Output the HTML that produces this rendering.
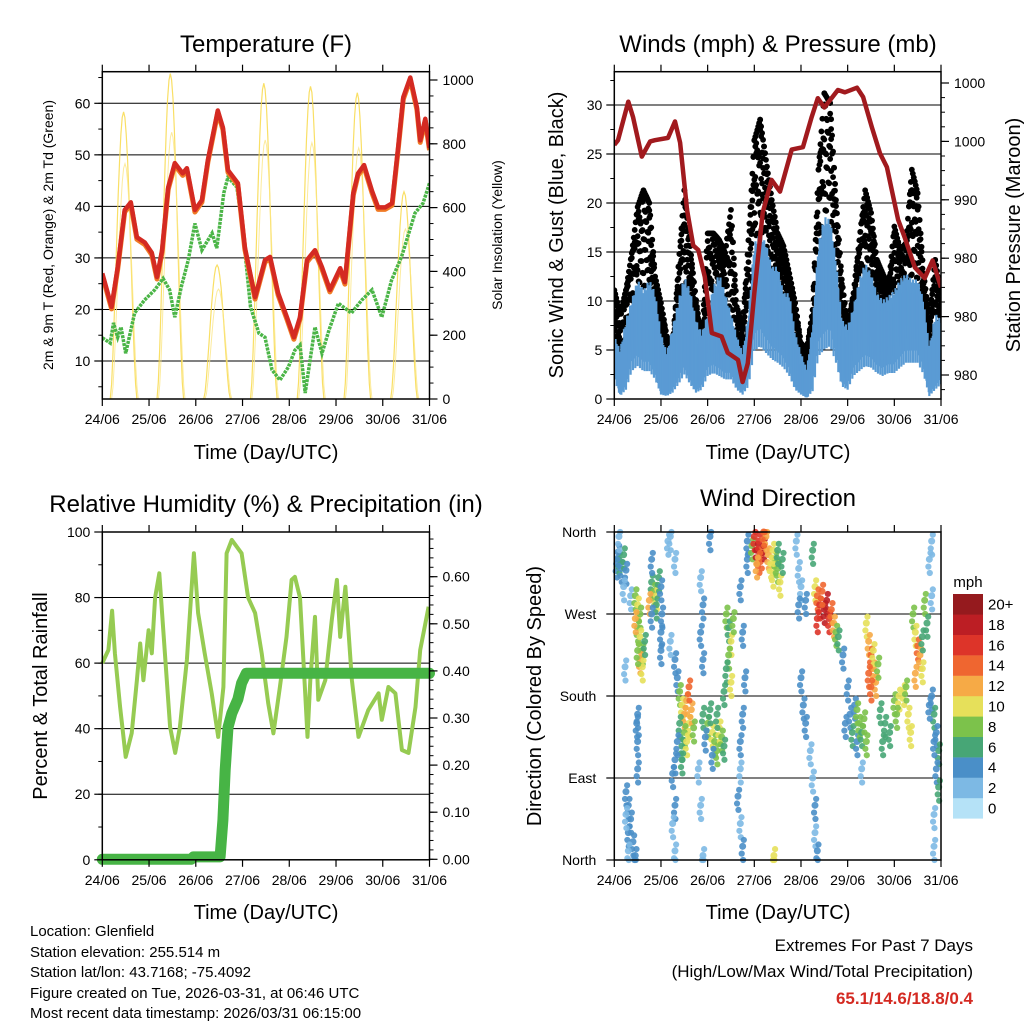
<!DOCTYPE html>
<html><head><meta charset="utf-8"><style>
html,body{margin:0;padding:0;background:#fff;}
svg{display:block;font-family:"Liberation Sans",Arial,sans-serif;}
</style></head><body>
<svg id="chart" width="1024" height="1024" viewBox="0 0 1024 1024" xmlns="http://www.w3.org/2000/svg">
<rect width="1024" height="1024" fill="#fff"/>
<text x="266" y="52" font-size="24" text-anchor="middle">Temperature (F)</text>
<text x="778" y="52" font-size="24" text-anchor="middle">Winds (mph) &amp; Pressure (mb)</text>
<text x="266" y="512" font-size="24" text-anchor="middle">Relative Humidity (%) &amp; Precipitation (in)</text>
<text x="778" y="506" font-size="24" text-anchor="middle">Wind Direction</text>
<text x="266" y="459" font-size="20" text-anchor="middle">Time (Day/UTC)</text>
<text x="778" y="459" font-size="20" text-anchor="middle">Time (Day/UTC)</text>
<text x="266" y="919" font-size="20" text-anchor="middle">Time (Day/UTC)</text>
<text x="778" y="919" font-size="20" text-anchor="middle">Time (Day/UTC)</text>
<text transform="translate(53,235) rotate(-90)" font-size="14" text-anchor="middle">2m &amp; 9m T (Red, Orange) &amp; 2m Td (Green)</text>
<text transform="translate(502,235) rotate(-90)" font-size="14" text-anchor="middle">Solar Insolation (Yellow)</text>
<text transform="translate(563,235) rotate(-90)" font-size="20" text-anchor="middle">Sonic Wind &amp; Gust (Blue, Black)</text>
<text transform="translate(1020,235) rotate(-90)" font-size="20" text-anchor="middle">Station Pressure (Maroon)</text>
<text transform="translate(47,696) rotate(-90)" font-size="20" text-anchor="middle">Percent &amp; Total Rainfall</text>
<text transform="translate(541,696) rotate(-90)" font-size="20" text-anchor="middle">Direction (Colored By Speed)</text>
<text x="968" y="587" font-size="15" text-anchor="middle">mph</text>
<g font-size="15">
<text x="30" y="936">Location: Glenfield</text>
<text x="30" y="957">Station elevation: 255.514 m</text>
<text x="30" y="977">Station lat/lon: 43.7168; -75.4092</text>
<text x="30" y="998">Figure created on Tue, 2026-03-31, at 06:46 UTC</text>
<text x="30" y="1018">Most recent data timestamp: 2026/03/31 06:15:00</text>
</g>
<g font-size="17" text-anchor="end">
<text x="973" y="951">Extremes For Past 7 Days</text>
<text x="973" y="977">(High/Low/Max Wind/Total Precipitation)</text>
<text x="973" y="1004" fill="#d42a22" font-weight="bold">65.1/14.6/18.8/0.4</text>
</g>
</svg>
<script>
const dayLabels = ["24/06","25/06","26/06","27/06","28/06","29/06","30/06","31/06"];
// Temperature (F)
const tempT = [0,0.2,0.33,0.48,0.61,0.74,0.91,1.06,1.17,1.28,1.41,1.55,1.72,1.81,1.98,2.13,2.26,2.47,2.58,2.69,2.9,3.05,3.27,3.48,3.59,3.76,3.95,4.1,4.23,4.38,4.55,4.7,4.87,5.09,5.19,5.37,5.47,5.6,5.77,5.9,6.05,6.2,6.33,6.44,6.59,6.73,6.8,6.91,7.0];
const tempV = [27,20.5,28.2,39.3,40.8,34,33,31,26.3,31.5,43.7,48.4,46.4,47.4,39.3,41.2,49,58.6,55.3,47,44.5,32,22.4,29.6,30.2,23.2,18.5,14.6,18.5,29.6,31.5,28.2,23.8,28,25.3,42.6,46.4,48,43,39.8,39.8,40.6,51.5,61.2,65,59.2,52.8,57,51.3];
const dewT = [0,0.17,0.24,0.33,0.4,0.5,0.69,0.9,1.12,1.3,1.44,1.55,1.69,1.84,1.98,2.13,2.35,2.45,2.6,2.69,2.88,3.0,3.17,3.35,3.48,3.63,3.8,3.98,4.12,4.23,4.34,4.55,4.7,4.85,5.05,5.33,5.55,5.77,5.98,6.19,6.4,6.69,6.86,7.0];
const dewV = [14.5,13.5,17.4,14.6,16.6,11.5,19.3,21.8,23.8,26,23.8,18.5,24.4,29.6,36.7,31.5,34.8,31.9,42.6,45.7,43.7,36,20.5,15.4,14.6,8.3,6.3,8.8,12.1,13.1,3.8,16.6,11.5,16,21.2,19.3,21.8,23.8,18.5,25.7,30.2,38.7,40.6,44.5];
const solarPeak = [900,1020,420,990,980,960,650];
const tempTicks = [10,20,30,40,50,60];
const solarTicks = [0,200,400,600,800,1000];
// Winds (mph) & pressure
const windHi = [6.4,5,8.1,10.1,12.2,11.1,12.2,10.8,6.7,4.7,7.4,10.1,12.5,11.1,8.1,6.7,8.7,11.5,12.8,10.8,8.7,6.4,4.7,8.7,15.9,16.9,15.9,13.5,13.5,10.8,10.8,6.7,4.7,3,7.7,15.9,18.6,18.3,14.2,8.1,7.4,9.4,12.2,13.9,12.8,10.8,10.1,10.5,11.1,12.2,12.8,12.2,12.2,10.1,5.3,8.7,8.1];
const windLo = [4,0.6,1.9,5.7,6.7,5.7,5.7,4,0.9,0.6,1.3,3,5,3,1.3,1.9,4.7,5.3,4.7,4,4,1.9,0.9,2.6,9.8,10.8,9.4,8.1,7.4,6.4,4.7,1.9,0.9,0.2,1.6,8.7,10.1,10.8,7.4,2.6,1.9,4.7,5.7,6.7,6.4,5.3,4.7,5.3,5.3,6.4,7.4,7.4,7.4,5,0.6,1.9,3];
const gust = [11.1,8.7,11.1,14.9,19.6,21.3,20,12.5,9.8,6.4,5.3,13.5,21.3,15.6,10.1,6,16.9,16.9,16.2,14.9,19.3,9.4,7.4,16.2,26.4,28.5,24.4,20.3,16.9,15.6,12.8,9.8,5.7,5,9.1,23.4,31.2,30.2,20.3,12.2,7.4,10.8,16.2,21.3,19,14.2,12.8,11.5,17.6,15.2,15.9,23.4,21,12.8,8.1,14.2,10.8];
const presT = [0,0.08,0.3,0.4,0.59,0.77,0.87,1.15,1.3,1.41,1.56,1.69,1.8,1.94,2.09,2.3,2.43,2.65,2.75,2.86,3.0,3.18,3.37,3.55,3.8,4.04,4.23,4.36,4.5,4.79,4.94,5.2,5.33,5.52,5.69,5.84,6.08,6.22,6.44,6.65,6.82,7.0];
const presV = [994.7,995.1,998.4,997.1,993.7,995,995.1,995.3,996.7,994.9,989.1,986.1,985.7,983.4,978.6,978.3,976.9,976.3,974.4,976,982,988.9,991.7,990.7,994.3,994.5,997.1,998.7,997.9,999.4,999.2,999.6,998.8,996.2,994,992.8,988.3,986.8,984.2,983.3,984.8,982.5];
const windTicks = [0,5,10,15,20,25,30];
const presTicks = [1000,995,990,985,980,975];
const presLabels = ["1000","1000","990","980","980","980"];
// Humidity & precipitation
const rhT = [0,0.13,0.21,0.27,0.38,0.5,0.63,0.74,0.81,0.88,0.99,1.06,1.13,1.22,1.34,1.45,1.56,1.66,1.81,1.96,2.05,2.19,2.34,2.48,2.59,2.66,2.77,2.98,3.12,3.27,3.41,3.55,3.66,3.8,3.94,4.05,4.12,4.23,4.34,4.39,4.45,4.55,4.62,4.77,4.91,5.02,5.09,5.2,5.34,5.48,5.69,5.91,5.98,6.12,6.27,6.41,6.55,6.7,6.8,6.98];
const rhV = [60,64,76,63,46.6,31.4,38.6,54.8,66,54.8,70,63,80,87.4,63,40.5,32.6,40.5,61,93.5,75.3,63,50.8,37.5,52.7,93.5,97.6,93.5,80,75.3,63,47.8,38.6,52.7,68,85.4,86.3,80,50.8,37.5,54.8,74.1,48.8,54.8,73.2,85.4,68,83.3,54.8,37.5,45.7,50.8,42.7,52.7,50.8,33.5,32.6,46.6,64,77.2];
const rainT = [0,1.9,1.95,2.52,2.58,2.63,2.69,2.77,2.9,2.98,3.08,7.0];
const rainV = [0,0,0.005,0.005,0.083,0.19,0.28,0.31,0.34,0.374,0.395,0.395];
const rhTicks = [0,20,40,60,80,100];
const rainTicks = [0,0.1,0.2,0.3,0.4,0.5,0.6];
const rainLabels = ["0.00","0.10","0.20","0.30","0.40","0.50","0.60"];
// Wind direction
const dirT = [0.05,0.1,0.15,0.2,0.25,0.08,0.1,0.2,0.35,0.23,0.45,0.5,0.55,0.5,0.55,0.6,0.55,0.6,0.65,0.45,0.5,0.8,0.85,0.9,0.95,0.75,0.9,0.5,0.5,0.5,0.48,0.8,0.8,1.0,1.02,1.0,1.0,0.25,0.3,0.35,0.3,0.4,0.45,0.3,0.25,1.15,1.3,1.2,1.2,1.3,1.35,1.4,1.45,1.5,1.55,1.6,1.5,1.45,1.65,1.55,1.6,1.7,1.4,1.35,1.3,1.25,1.45,1.3,1.25,1.3,1.9,2.0,2.1,2.15,2.2,2.25,2.3,2.05,2.35,1.95,2.1,2.2,1.85,1.9,1.85,1.9,1.8,1.85,1.9,2.4,2.45,2.5,2.45,2.4,2.5,2.55,2.35,2.7,2.75,2.8,2.75,2.7,2.7,2.65,2.7,2.75,2.85,2.85,2.95,3.0,3.05,3.1,3.15,3.2,3.25,3.3,3.35,3.4,3.45,3.5,3.55,3.6,3.1,3.2,3.4,3.5,3.05,3.9,3.95,4.0,4.1,3.95,4.0,4.05,4.1,4.2,4.25,4.3,4.3,4.35,4.3,4.35,4.4,4.5,4.55,4.6,4.65,4.7,4.45,4.75,4.35,4.8,4.25,4.9,5.0,5.05,5.1,5.15,5.2,4.95,5.3,5.2,5.25,5.3,5.35,5.4,5.4,5.45,5.5,5.55,5.6,5.5,5.55,5.65,5.45,5.7,5.8,5.9,6.0,6.1,6.2,6.3,6.35,5.75,6.05,6.25,6.4,6.45,6.5,6.55,6.6,6.65,6.7,6.45,6.6,6.8,6.85,6.9,6.95,6.85,6.9,6.95,6.75,6.8,6.8,6.85,6.85,6.75,3.42,2.05];
const dirV = [325,330,320,335,318,338,355,300,290,212,290,280,270,255,245,230,220,212,240,265,230,305,295,290,310,285,280,160,130,100,150,330,270,300,270,250,230,75,60,45,30,20,5,10,50,350,330,355,240,220,200,185,170,160,175,150,140,125,165,130,190,145,150,130,110,95,110,60,40,10,160,150,140,130,120,145,135,165,125,135,115,160,310,280,250,220,100,60,5,270,255,240,225,210,195,265,185,300,250,200,160,130,100,70,40,15,350,330,345,355,340,350,335,345,355,335,325,315,330,320,305,330,330,360,340,340,325,350,320,300,285,280,200,170,150,120,90,60,30,10,300,290,280,275,285,265,275,260,295,250,265,245,340,225,190,160,140,170,130,150,100,165,150,140,155,130,260,240,225,210,195,190,230,215,205,165,150,140,175,180,185,160,140,130,160,190,270,250,235,225,210,285,260,205,245,180,160,140,120,130,100,80,170,350,290,50,15,330,5,355];
const dirS = [4,5,4,6,4,3,2,2,2,2,8,10,8,7,9,8,11,10,6,11,7,6,8,10,6,11,5,4,4,4,3,4,3,4,4,3,3,4,4,4,3,4,4,2,2,2,2,2,2,3,3,8,10,12,11,10,8,6,12,9,13,7,6,4,3,4,5,4,2,2,6,8,10,8,7,9,8,6,6,4,4,5,2,3,4,4,2,2,2,8,6,9,8,6,10,7,6,4,4,3,4,3,2,3,2,3,4,4,8,16,18,16,14,18,12,12,10,10,8,8,10,6,14,14,10,6,12,2,2,2,3,3,3,3,4,2,2,3,2,4,10,14,16,18,18,16,14,12,14,8,16,6,6,4,4,4,5,4,3,4,2,7,8,6,7,8,10,12,14,12,11,13,10,8,14,6,6,6,8,10,10,10,9,5,7,8,8,10,14,12,10,8,6,12,6,4,5,4,6,3,4,6,3,2,2,2,2,2,10,4];
const speedColors = ["#b5e2f7","#7db9e4","#4a8fc8","#47a676","#7cc24b","#e6e05a","#f6aa46","#ef6630","#dd3429","#bc1e24","#951a1e"];
const speedLabels = ["0","2","4","6","8","10","12","14","16","18","20+"];
const dirTicks = [0,90,180,270,360];
const dirLabels = ["North","East","South","West","North"];

const NS = "http://www.w3.org/2000/svg";
const svg = document.getElementById("chart");
function mk(tag, attrs, name, parent) {
  const el = document.createElementNS(NS, tag);
  for (const k in attrs) el.setAttribute(k, attrs[k]);
  
  
  (parent || svg).appendChild(el);
  return el;
}
function txt(x, y, s, size, anchor, name) {
  const el = mk("text", {x: x, y: y, "font-size": size, "text-anchor": anchor}, name);
  el.textContent = s;
  return el;
}
function lin(d0, d1, r0, r1) { return v => r0 + (v - d0) / (d1 - d0) * (r1 - r0); }
function pathOf(xs, ys, fx, fy) {
  return xs.map((t, i) => (i ? "L" : "M") + fx(t).toFixed(1) + " " + fy(ys[i]).toFixed(1)).join(" ");
}
function frame(p, pre) {
  for (let i = 0; i < dayLabels.length; i++) {
    const x = p.fx(i);
    mk("line", {x1: x, y1: p.y1, x2: x, y2: p.y1 + 7, stroke: "#000", "stroke-width": 1.2}, pre + "-x-tick");
    mk("line", {x1: x, y1: p.y0, x2: x, y2: p.y0 - 7, stroke: "#000", "stroke-width": 1.2}, pre + "-x-tick-top");
    txt(x, p.y1 + 25, dayLabels[i], 14, "middle", pre + "-x-tick-label");
  }
}
function box(p, pre) {
  mk("rect", {x: p.x0, y: p.y0, width: p.x1 - p.x0, height: p.y1 - p.y0, fill: "none", stroke: "#000", "stroke-width": 1.5}, pre + "-plot-frame");
}
function hgrid(p, vals, fy, pre) {
  vals.forEach(v => {
    const y = fy(v);
    if (y > p.y0 + 1 && y < p.y1 - 1)
      mk("line", {x1: p.x0, y1: y, x2: p.x1, y2: y, stroke: "#000", "stroke-width": 1}, pre + "-gridline");
  });
}
function leftTicks(p, vals, fy, labels, pre, minorStep, lo, hi) {
  if (minorStep) for (let v = lo; v <= hi + 1e-9; v += minorStep) {
    const y = fy(v); if (y < p.y0 - 0.5 || y > p.y1 + 0.5) continue;
    mk("line", {x1: p.x0 - 4, y1: y, x2: p.x0, y2: y, stroke: "#000", "stroke-width": 1}, pre + "-minor-tick");
  }
  vals.forEach((v, i) => {
    const y = fy(v);
    mk("line", {x1: p.x0 - 8, y1: y, x2: p.x0, y2: y, stroke: "#000", "stroke-width": 1.2}, pre + "-y-tick");
    txt(p.x0 - 12, y + 5, labels[i], 14, "end", pre + "-y-tick-label");
  });
}
function rightTicks(p, vals, fy, labels, pre, minorStep, lo, hi) {
  if (minorStep) for (let v = lo; v <= hi + 1e-9; v += minorStep) {
    const y = fy(v); if (y < p.y0 - 0.5 || y > p.y1 + 0.5) continue;
    mk("line", {x1: p.x1, y1: y, x2: p.x1 + 4, y2: y, stroke: "#000", "stroke-width": 1}, pre + "-right-minor-tick");
  }
  vals.forEach((v, i) => {
    const y = fy(v);
    mk("line", {x1: p.x1, y1: y, x2: p.x1 + 8, y2: y, stroke: "#000", "stroke-width": 1.2}, pre + "-right-tick");
    txt(p.x1 + 13, y + 5, labels[i], 14, "start", pre + "-right-tick-label");
  });
}
function interp(arr, f) {
  const i = Math.floor(f), j = Math.min(arr.length - 1, i + 1), w = f - i;
  return arr[i] * (1 - w) + arr[j] * w;
}

// ---------- Panel 1: Temperature ----------
(function () {
  const p = {x0: 102.3, x1: 429.5, y0: 71.7, y1: 399};
  p.fx = lin(0, 7, p.x0, p.x1);
  const fy = lin(10, 60, 361, 103.3);
  const fs = lin(0, 1000, 399, 80);
  const clip = mk("clipPath", {id: "c1"}, "temp-clip");
  mk("rect", {x: p.x0, y: p.y0, width: p.x1 - p.x0, height: p.y1 - p.y0}, "temp-clip-rect", clip);
  hgrid(p, tempTicks, fy, "temp");
  const g = mk("g", {"clip-path": "url(#c1)"}, "temp-series");
  solarPeak.forEach((pk, d) => {
    const xs = [], ys = [];
    for (let k = 0; k <= 20; k++) { const f = k / 20; xs.push(d + 0.17 + 0.57 * f); ys.push(pk * Math.pow(Math.sin(Math.PI * f), 1.6)); }
    mk("path", {d: pathOf(xs, ys, p.fx, fs), fill: "none", stroke: "#f8d94a", "stroke-width": 1.2, opacity: 0.85}, "solar-day-curve", g);
    const xs2 = xs.map(t => t + 0.03), ys2 = ys.map(v => v * 0.82);
    mk("path", {d: pathOf(xs2, ys2, p.fx, fs), fill: "none", stroke: "#fbe685", "stroke-width": 1, opacity: 0.8}, "solar-day-curve-secondary", g);
  });
  mk("path", {d: pathOf(dewT, dewV, p.fx, fy), fill: "none", stroke: "#4bb547", "stroke-width": 3.5, "stroke-dasharray": "3 1"}, "dewpoint-line", g);
  mk("path", {d: pathOf(tempT, tempV, p.fx, v => fy(v) + 2), fill: "none", stroke: "#f07a25", "stroke-width": 5, "stroke-linejoin": "round"}, "temp-9m-line", g);
  mk("path", {d: pathOf(tempT, tempV, p.fx, fy), fill: "none", stroke: "#d42a22", "stroke-width": 4.5, "stroke-linejoin": "round"}, "temp-2m-line", g);
  box(p, "temp");
  frame(p, "temp");
  leftTicks(p, tempTicks, fy, tempTicks.map(String), "temp", 5, 0, 65);
  rightTicks(p, solarTicks, fs, solarTicks.map(String), "solar", 50, 0, 1000);
})();

// ---------- Panel 2: Winds ----------
(function () {
  const p = {x0: 614.3, x1: 941, y0: 71.7, y1: 399};
  p.fx = lin(0, 7, p.x0, p.x1);
  const fy = lin(0, 30, 399, 105);
  const fp = lin(1000, 975, 83, 375);
  const clip = mk("clipPath", {id: "c2"}, "wind-clip");
  mk("rect", {x: p.x0, y: p.y0, width: p.x1 - p.x0, height: p.y1 - p.y0}, "wind-clip-rect", clip);
  hgrid(p, windTicks, fy, "wind");
  const g = mk("g", {"clip-path": "url(#c2)"}, "wind-series");
  const n = windHi.length - 1;
  // gust dots scattered between sustained top and gust top
  const steps = n * 6;
  for (let s = 0; s <= steps; s++) {
    const f = s / 6, t = f * 0.125;
    const top = interp(gust, f), bot = interp(windHi, f) - 1.5;
    const m = 4;
    for (let k = 0; k < m; k++) {
      const frac = ((s * 3 + k * 7) % 11) / 10;
      const v = bot + (top - bot) * Math.pow(frac, 0.8);
      mk("circle", {cx: p.fx(t), cy: fy(v), r: 2.9, fill: "#000"}, "gust-point", g);
    }
    mk("circle", {cx: p.fx(t), cy: fy(top), r: 2.9, fill: "#000"}, "gust-point", g);
  }
  // sustained wind as vertical strokes
  const bsteps = n * 10;
  for (let s = 0; s <= bsteps; s++) {
    const f = s / 10, t = f * 0.125;
    const hi = interp(windHi, f), lo = interp(windLo, f);
    const jit = 0.7 + 0.3 * (((s * 7) % 5) / 4);
    const top = lo + (hi - lo) * jit;
    const bot = lo * (0.5 + 0.5 * (((s * 3) % 4) / 3));
    mk("line", {x1: p.fx(t), y1: fy(top), x2: p.fx(t), y2: fy(bot), stroke: "#5a9bd4", "stroke-width": 2.2}, "wind-stroke", g);
  }
  mk("path", {d: pathOf(presT, presV, p.fx, fp), fill: "none", stroke: "#a11a1e", "stroke-width": 4.5, "stroke-linejoin": "round"}, "pressure-line", g);
  box(p, "wind");
  frame(p, "wind");
  leftTicks(p, windTicks, fy, windTicks.map(String), "wind", 2.5, 0, 32.5);
  rightTicks(p, presTicks, fp, presLabels, "pressure", 1.25, 973.75, 1002.5);
})();

// ---------- Panel 3: Humidity ----------
(function () {
  const p = {x0: 102.3, x1: 429.5, y0: 532, y1: 859.8};
  p.fx = lin(0, 7, p.x0, p.x1);
  const fy = lin(0, 100, 859.8, 532);
  const fr = lin(0, 0.6, 859.3, 576.7);
  const clip = mk("clipPath", {id: "c3"}, "rh-clip");
  mk("rect", {x: p.x0 - 6, y: p.y0, width: p.x1 - p.x0 + 12, height: p.y1 - p.y0 + 6}, "rh-clip-rect", clip);
  hgrid(p, rhTicks, fy, "rh");
  const g = mk("g", {"clip-path": "url(#c3)"}, "rh-series");
  mk("path", {d: pathOf(rhT, rhV, p.fx, fy), fill: "none", stroke: "#96cb52", "stroke-width": 4, "stroke-linejoin": "round"}, "humidity-line", g);
  mk("path", {d: pathOf(rainT, rainV, p.fx, fr), fill: "none", stroke: "#47b445", "stroke-width": 11, "stroke-linecap": "round", "stroke-linejoin": "round"}, "precip-line", g);
  box(p, "rh");
  frame(p, "rh");
  leftTicks(p, rhTicks, fy, rhTicks.map(String), "rh", 10, 0, 100);
  rightTicks(p, rainTicks, fr, rainLabels, "rain", 0.02, 0, 0.68);
})();

// ---------- Panel 4: Wind direction ----------
(function () {
  const p = {x0: 614.3, x1: 941, y0: 532, y1: 860};
  p.fx = lin(0, 7, p.x0, p.x1);
  const fy = lin(0, 360, 860, 532);
  hgrid(p, dirTicks, fy, "dir");
  const g = mk("g", {}, "direction-points");
  const offs = [[0, 0], [0.025, 7], [-0.02, -8], [0.01, -15]];
  for (let i = 0; i < dirT.length; i++) {
    const ci = Math.max(0, Math.min(10, Math.round(dirS[i] / 2)));
    offs.forEach((o, k) => {
      const dv = Math.max(0, Math.min(360, dirV[i] + o[1]));
      mk("circle", {cx: p.fx(dirT[i] + o[0]), cy: fy(dv), r: k ? 3.1 : 3.5, fill: speedColors[ci], opacity: 0.9}, "direction-point", g);
    });
  }
  box(p, "dir");
  frame(p, "dir");
  dirTicks.forEach((v, i) => {
    const y = fy(v);
    mk("line", {x1: p.x0 - 8, y1: y, x2: p.x0, y2: y, stroke: "#000", "stroke-width": 1.2}, "dir-y-tick");
    txt(p.x0 - 18, y + 5, dirLabels[i], 14, "end", "dir-y-tick-label");
  });
  for (let k = 0; k < speedColors.length; k++) {
    const y = 594 + (10 - k) * 20.4;
    mk("rect", {x: 953, y: y, width: 30, height: 20.6, fill: speedColors[k]}, "colorbar-box", svg);
    txt(988, y + 15.5, speedLabels[k], 15, "start", "colorbar-label");
  }
})();
</script>
</body></html>
